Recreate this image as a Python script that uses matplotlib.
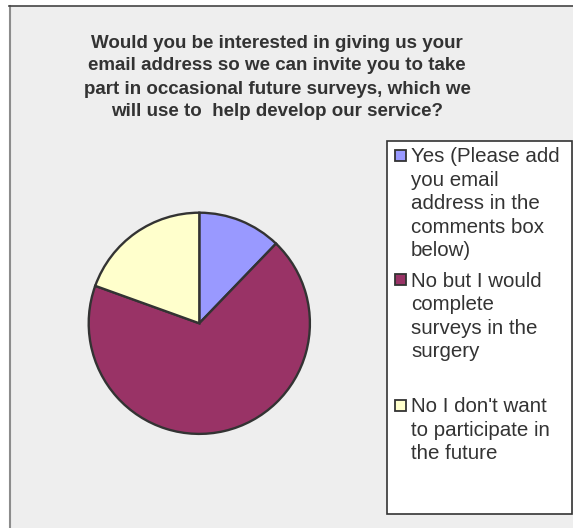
import matplotlib
matplotlib.use("Agg")
import matplotlib.pyplot as plt
from matplotlib.patches import Rectangle
from matplotlib.lines import Line2D

# Survey responses (share of respondents, %)
labels = [
    "Yes (Please add\nyou email\naddress in the\ncomments box\nbelow)",
    "No but I would\ncomplete\nsurveys in the\nsurgery",
    "No I don't want\nto participate in\nthe future",
]
values = [12.2, 68.3, 19.5]
colors = ["#9999FF", "#993366", "#FFFFCC"]
title_lines = [
    "Would you be interested in giving us your",
    "email address so we can invite you to take",
    "part in occasional future surveys, which we",
    "will use to  help develop our service?",
]

W, H = 573, 528
fig = plt.figure(figsize=(W / 100, H / 100), dpi=100, facecolor="white")


def fx(x):
    return x / W


def fy(y):
    return 1 - y / H


# chart area background and frame
fig.patches.append(Rectangle((fx(9), 0), 1 - fx(9), fy(6), transform=fig.transFigure,
                             facecolor="#EEEEEE", edgecolor="none", zorder=-2))
fig.lines.append(Line2D([fx(10), fx(10)], [0, fy(6)], transform=fig.transFigure,
                        color="#8c8c8c", lw=1.5, zorder=-1))
fig.lines.append(Line2D([fx(9), 1], [fy(6), fy(6)], transform=fig.transFigure,
                        color="#444444", lw=1.2, zorder=-1))

# title
text_color = "#333333"
for i, line in enumerate(title_lines):
    fig.text(fx(277), fy(47.5 + i * 23.0), line, ha="center", va="baseline",
             fontsize=13.5, fontweight="bold", family="Liberation Sans",
             color=text_color)

# pie
cx, cy, r = 199.3, 323.3, 110.6
ax = fig.add_axes([fx(cx - r), fy(cy + r), 2 * r / W, 2 * r / H])
ax.set_zorder(1)
ax.patch.set_visible(False)
wedges, _ = ax.pie(values, colors=colors, startangle=90, counterclock=False,
                   radius=1.0,
                   wedgeprops=dict(edgecolor="#333333", linewidth=1.7))
ax.set_xlim(-1.0, 1.0)
ax.set_ylim(-1.0, 1.0)
ax.set_aspect("equal")
ax.axis("off")

# legend box
fig.patches.append(Rectangle((fx(387), fy(514)), fx(572) - fx(387), fy(141) - fy(514),
                             transform=fig.transFigure, facecolor="white",
                             edgecolor="#333333", lw=1.2, zorder=2))

first_baselines = [162.5, 286.7, 412.3]
line_step = 23.4
for label, col, wedge, base in zip(labels, colors, wedges, first_baselines):
    mcy = base - 7.3
    fig.patches.append(Rectangle((fx(394.5), fy(mcy + 5.5)), 11 / W, 11 / H,
                                 transform=fig.transFigure,
                                 facecolor=wedge.get_facecolor(),
                                 edgecolor="#333333", lw=1.3, zorder=3))
    for j, line in enumerate(label.split("\n")):
        fig.text(fx(411), fy(base + j * line_step), line, ha="left", va="baseline",
                 fontsize=14.8, family="Liberation Sans", color=text_color, zorder=4)

fig.savefig("out.png", dpi=100, facecolor="white")
